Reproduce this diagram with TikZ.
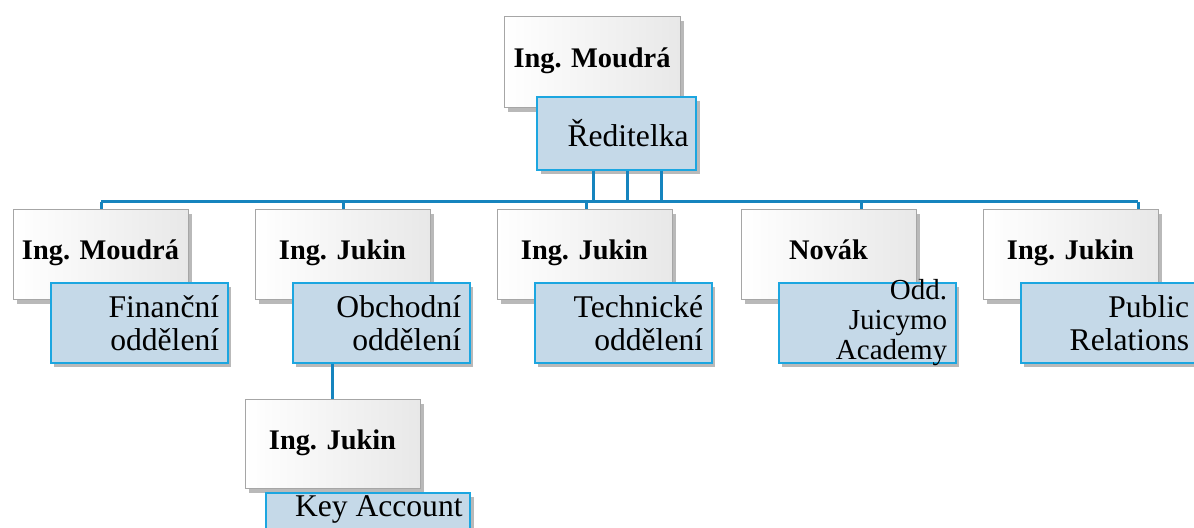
\documentclass[tikz,border=0pt]{standalone}
\usepackage{fontspec}
\setmainfont{Liberation Serif}
\usetikzlibrary{shadows}
\definecolor{deptfill}{RGB}{197,217,232}
\definecolor{deptline}{RGB}{28,166,224}
\definecolor{linkc}{RGB}{22,132,190}
\tikzset{
  nm/.style={rectangle,draw=black!35,line width=0.5pt,left color=white,right color=black!9,
    minimum width=87.5pt,minimum height=45pt,inner sep=0pt,text height=0.72em,text depth=0.22em,
    drop shadow={shadow xshift=1.8pt,shadow yshift=-1.8pt,opacity=0.55},
    font=\fontsize{14.2}{17}\selectfont\bfseries},
  dp/.style={rectangle,draw=deptline,fill=deptfill,line width=1pt,
    minimum width=88.5pt,minimum height=40pt,inner sep=0pt,
    drop shadow={shadow xshift=1.8pt,shadow yshift=-1.8pt,opacity=0.55}},
  dt/.style={align=right,inner sep=0pt,font=\fontsize{15.8}{16.5}\selectfont},
  dts/.style={align=right,inner sep=0pt,font=\fontsize{14.5}{15}\selectfont},
  con/.style={draw=linkc,line width=1.5pt},
}
\begin{document}
\begin{tikzpicture}[x=0.5pt,y=-0.5pt]
\useasboundingbox (0,0) rectangle (1194,528);
% director
\node[nm,minimum width=88pt,minimum height=45.5pt] (top) at (592,62.5) {Ing. Moudrá};
\node[dp,minimum width=79.5pt,minimum height=36.5pt] (ceo) at (616.5,133.5) {};
\node[dt,anchor=east] (ceoT) at ([xshift=-4pt]ceo.east) {Ředitelka};
% departments
\foreach \n/\x/\dx/\who/\dept/\ft in {1/100.5/0.5/{Ing. Moudrá}/{Finanční\\oddělení}/dt,
  2/342.5/0.5/{Ing. Jukin}/{Obchodní\\oddělení}/dt,
  3/584.5/1.5/{Ing. Jukin}/{Technické\\oddělení}/dt,
  4/828.5/32.5/{Novák}/{Odd.\\Juicymo\\Academy}/dts,
  5/1070.5/67.5/{Ing. Jukin}/{Public\\Relations}/dt}{
  \node[nm] (n\n) at (\x,255) {\who};
  \node[dp] (d\n) at (\x+38.5,323) {};
  \node[\ft,anchor=east] (t\n) at ([xshift=-4.5pt]d\n.east) {\dept};
  \coordinate (b\n) at (\x+\dx,202);
  \draw[con] (b\n) -- (b\n |- n\n.north);
}
% key account
\node[nm,minimum height=44.5pt] (sub) at (332.5,444.5) {Ing. Jukin};
\node[dp,minimum width=102pt] (ka) at (368,533) {};
\node[dt,anchor=base east] (kaT) at ([xshift=-4pt,yshift=-12.5pt]ka.north east) {Key Account};
% links
\draw[con] (b1) -- (b5);
\foreach \i/\rx in {1/593,2/627,3/661}{
  \coordinate (r\i) at (\rx,202);
  \draw[con] (r\i |- ceo.south) -- (r\i);
}
\draw[con] (sub.north |- d2.south) -- (sub.north);
\end{tikzpicture}
\end{document}
